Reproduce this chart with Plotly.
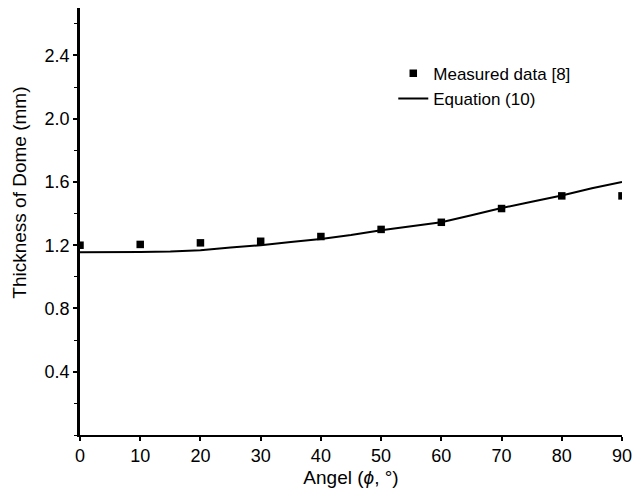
import plotly.graph_objects as go

angle_measured = [0, 10, 20, 30, 40, 50, 60, 70, 80, 90]
thickness_measured = [1.20, 1.205, 1.215, 1.225, 1.255, 1.30, 1.345, 1.432, 1.512, 1.512]

angle_eq = [0, 5, 10, 15, 20, 25, 30, 35, 40, 45, 50, 55, 60, 65, 70, 75, 80, 85, 90]
thickness_eq = [1.155, 1.155, 1.157, 1.16, 1.168, 1.185, 1.20, 1.22, 1.24, 1.265,
                1.295, 1.32, 1.345, 1.39, 1.435, 1.475, 1.515, 1.56, 1.60]

y_tickvals = [0.4, 0.8, 1.2, 1.6, 2.0, 2.4]
y_ticktext = ["0.4", "0.8", "1.2", "1.6", "2.0", "2.4"]
x_tickvals = [0, 10, 20, 30, 40, 50, 60, 70, 80, 90]

font_family = "Liberation Sans, Arial, sans-serif"

fig = go.Figure()
fig.add_trace(go.Scatter(
    x=angle_measured, y=thickness_measured, mode="markers",
    name="Measured data [8]",
    marker=dict(symbol="square", size=7.5, color="black"),
))
fig.add_trace(go.Scatter(
    x=angle_eq, y=thickness_eq, mode="lines",
    name="Equation (10)",
    line=dict(color="black", width=2),
))

fig.update_layout(
    width=632, height=494,
    margin=dict(l=80, r=10, t=8, b=59),
    paper_bgcolor="white", plot_bgcolor="white",
    font=dict(family=font_family, size=18, color="black"),
    showlegend=True,
    legend=dict(
        x=0.578, y=0.888, xanchor="left", yanchor="top",
        bgcolor="rgba(0,0,0,0)", font=dict(size=17),
        tracegroupgap=0, itemsizing="trace",
    ),
    xaxis=dict(
        range=[0, 90], tickvals=x_tickvals,
        showline=True, linecolor="black", linewidth=1.5,
        ticks="outside", ticklen=4, tickcolor="black", tickwidth=1.5,
        showgrid=False, zeroline=False, automargin=False,
        ticklabeloverflow="allow",
        title=dict(text="Angel (<i>ϕ</i>, °)", font=dict(size=19), standoff=5),
        tickfont=dict(size=18),
    ),
    yaxis=dict(
        range=[0, 2.7], tickvals=y_tickvals, ticktext=y_ticktext,
        showline=True, linecolor="black", linewidth=2.5,
        ticks="outside", ticklen=4, tickcolor="black", tickwidth=1.5,
        minor=dict(dtick=0.2, tick0=0, ticks="outside", ticklen=3, tickcolor="black", tickwidth=1),
        showgrid=False, zeroline=False,
        tickfont=dict(size=18),
    ),
    annotations=[dict(
        text="Thickness of Dome (mm)", textangle=-90,
        xref="paper", yref="paper", x=-0.111, y=0.567,
        xanchor="center", yanchor="middle", showarrow=False,
        font=dict(size=19),
    )],
)

fig.write_html("out.html")
